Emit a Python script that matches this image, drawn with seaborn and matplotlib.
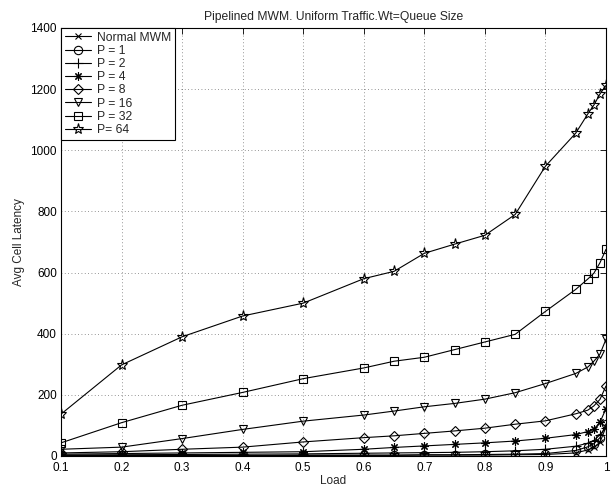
import numpy as np
import pandas as pd
import matplotlib
matplotlib.use("Agg")
import matplotlib.pyplot as plt
import seaborn as sns

load = [0.1, 0.2, 0.3, 0.4, 0.5, 0.6, 0.65, 0.7, 0.75, 0.8, 0.85, 0.9, 0.95, 0.97, 0.98, 0.99, 1.0]

normal_mwm = [1, 1, 1, 1, 2, 2, 2, 3, 3, 3, 4, 5, 10, 20, 28, 45, 95]
p1 = [2, 2, 2, 2, 3, 3, 3, 4, 4, 5, 6, 8, 18, 30, 40, 60, 105]
p2 = [3, 4, 5, 6, 7, 9, 10, 11, 12, 14, 17, 22, 32, 42, 50, 70, 92]
p4 = [6, 8, 10, 12, 14, 22, 28, 33, 38, 43, 49, 58, 70, 80, 88, 110, 155]
p8 = [10, 14, 22, 29, 46, 60, 66, 74, 82, 91, 104, 115, 138, 150, 164, 185, 229]
p16 = [22, 29, 57, 87, 114, 134, 147, 161, 172, 186, 207, 237, 270, 291, 310, 333, 382]
p32 = [43, 109, 166, 208, 253, 288, 310, 323, 348, 373, 398, 473, 545, 579, 598, 632, 676]
p64 = [137, 298, 390, 458, 500, 580, 604, 663, 693, 722, 790, 948, 1056, 1119, 1148, 1184, 1212]

series_names = ["Normal MWM", "P = 1", "P = 2", "P = 4", "P = 8", "P = 16", "P = 32", "P= 64"]
series_values = [normal_mwm, p1, p2, p4, p8, p16, p32, p64]
series_markers = ["x", "o", "+", (8, 2, 0), "D", "v", "s", "*"]
marker_sizes = [5, 6, 7, 6, 5, 6, 5.5, 8]

x_ticks = [0.1, 0.2, 0.3, 0.4, 0.5, 0.6, 0.7, 0.8, 0.9, 1.0]
x_tick_labels = ["0.1", "0.2", "0.3", "0.4", "0.5", "0.6", "0.7", "0.8", "0.9", "1"]
y_ticks = [0, 200, 400, 600, 800, 1000, 1200, 1400]

sns.set_style("white")
plt.rcParams["font.family"] = ["Liberation Sans", "DejaVu Sans"]
plt.rcParams["font.size"] = 8

fig = plt.figure(figsize=(6.11, 4.87), dpi=100)
ax = fig.add_axes([61 / 611, 1 - 456 / 487, (606 - 61) / 611, (456 - 28) / 487])

for name, vals, mk, ms in zip(series_names, series_values, series_markers, marker_sizes):
    df = pd.DataFrame({"Load": load, "Latency": vals})
    sns.lineplot(data=df, x="Load", y="Latency", ax=ax, color="black", linewidth=0.8,
                 marker=mk, markersize=ms, markerfacecolor="none", markeredgecolor="black",
                 markeredgewidth=0.8, label=name, legend=False, zorder=3)

ax.set_xlim(0.1, 1.0)
ax.set_ylim(0, 1400)
ax.set_xticks(x_ticks)
ax.set_xticklabels(x_tick_labels)
ax.set_yticks(y_ticks)
ax.tick_params(direction="in", length=4, width=0.6, top=True, right=True, labelsize=8.5, colors="black")
ax.tick_params(axis="x", pad=4)
ax.tick_params(axis="y", pad=3)
ax.grid(True, linestyle=(0, (1, 3)), linewidth=0.6, color="black", alpha=0.55)
for sp in ax.spines.values():
    sp.set_visible(True)
    sp.set_color("black")
    sp.set_linewidth(0.8)

ax.set_title("Pipelined MWM. Uniform Traffic.Wt=Queue Size", fontsize=8.7, pad=6)
ax.set_xlabel("Load", fontsize=8.5, labelpad=1)
ax.set_ylabel("Avg Cell Latency", fontsize=8.5, labelpad=4)

handles, labels = ax.get_legend_handles_labels()
leg = ax.legend(handles, labels, loc="upper left", borderaxespad=0, fancybox=False,
                framealpha=1, edgecolor="black", fontsize=8.7, handlelength=2.2,
                handletextpad=0.5, labelspacing=0.1, borderpad=0.3)
leg.get_frame().set_linewidth(0.8)

fig.savefig("out.png", dpi=100)
